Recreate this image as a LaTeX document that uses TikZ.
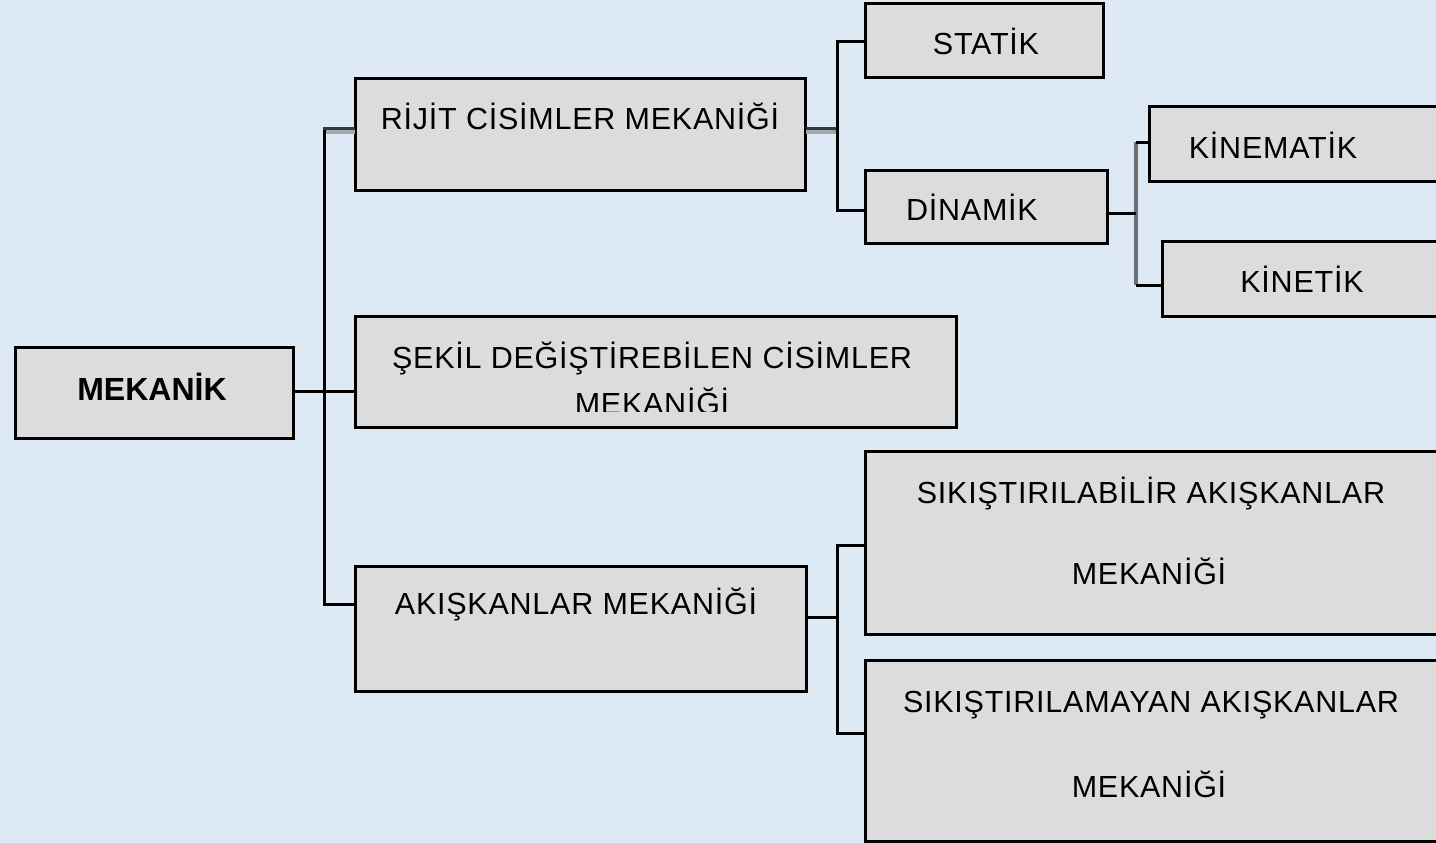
\documentclass[tikz,border=0pt]{standalone}
\usepackage{fontspec}
\setmainfont{Liberation Sans}
\newfontfamily\widefont[LetterSpace=2.5]{Liberation Sans}
\definecolor{bgc}{HTML}{DDE9F5}
\definecolor{boxc}{HTML}{DCDCDC}
\definecolor{shdark}{HTML}{333A3D}
\definecolor{shlight}{HTML}{9EA8AE}
\definecolor{midgray}{HTML}{707070}
\begin{document}
\begin{tikzpicture}[x=1pt,y=-1pt,
  box/.style={draw=black, fill=boxc, line width=3pt, inner sep=0pt, outer sep=0pt, rectangle},
  txt/.style={inner sep=0pt, anchor=base, font=\widefont\fontsize{30.5}{36}\selectfont},
  boldtxt/.style={inner sep=0pt, anchor=base, font=\fontsize{32}{38}\selectfont\bfseries},
  conn/.style={draw=black, line width=3pt},
  darkconn/.style={draw=shdark, line width=3.3pt},
  lightconn/.style={draw=shlight, line width=4pt},
  grayconn/.style={draw=midgray, line width=4pt}]
\useasboundingbox (0,0) rectangle (1436,843);
\clip (0,0) rectangle (1436,843);
\fill[bgc] (0,0) rectangle (1436,843);

% boxes
\node[box, minimum width=278pt, minimum height=91pt] (mek) at (154,392.5) {};
\node[box, minimum width=450.5pt, minimum height=112pt] (rijit) at (580.5,134.5) {};
\node[box, minimum width=238pt, minimum height=74pt] (statik) at (984,41) {};
\node[box, minimum width=242pt, minimum height=73.5pt] (dinamik) at (986,206.8) {};
\node[box, minimum width=311pt, minimum height=75.5pt] (kinematik) at (1304.5,144.2) {};
\node[box, minimum width=298pt, minimum height=75pt] (kinetik) at (1311,279) {};
\node[box, minimum width=601pt, minimum height=111.5pt] (sekil) at (655.5,372.2) {};
\node[box, minimum width=451pt, minimum height=124.5pt] (akis) at (580.5,629.2) {};
\node[box, minimum width=595pt, minimum height=182.5pt] (sik1) at (1162.5,543.2) {};
\node[box, minimum width=595pt, minimum height=181pt] (sik2) at (1162.5,750.5) {};

% trunk
\coordinate (tt) at (324.5,128.4);
\coordinate (tb) at (324.5,604);
\coordinate (mc) at (324.5,391);
\coordinate (rw) at (tt -| rijit.west);
\draw[conn] ([yshift=1.6pt]tt) -- (tb) -- (tb -| akis.west);
\draw[conn] (mek.east |- mc) -- (mc -| sekil.west);
\draw[darkconn] ([xshift=-1.5pt]tt) -- (rw);
\draw[lightconn] ([xshift=1.5pt,yshift=-3.6pt]tt) -- ([yshift=-3.6pt]rw);

% bracket 1
\coordinate (b1) at (836,128.4);
\coordinate (b1t) at (837.5,42);
\coordinate (b1b) at (837.5,210);
\coordinate (re) at (b1 -| rijit.east);
\draw[darkconn] (re) -- (b1);
\draw[lightconn] ([yshift=-3.6pt]re) -- ([yshift=-3.6pt]b1);
\draw[conn] (statik.west |- b1t) -- (b1t) -- (b1b) -- (dinamik.west |- b1b);

% bracket 2
\coordinate (b2) at (1136,213);
\coordinate (b2t) at (1136,142);
\coordinate (b2b) at (1136,285);
\draw[grayconn] (b2t) -- (b2b);
\draw[conn] (dinamik.east |- b2) -- (b2);
\draw[conn] (b2t) -- (kinematik.west |- b2t);
\draw[conn] (b2b) -- (kinetik.west |- b2b);

% bracket 3
\coordinate (b3) at (837,617);
\coordinate (b3t) at (837,545);
\coordinate (b3b) at (837,733);
\draw[conn] (akis.east |- b3) -- (b3);
\draw[conn] (sik1.west |- b3t) -- (b3t) -- (b3b) -- (sik2.west |- b3b);

% texts
\node[boldtxt] (tmek) at (152,400) {MEKANİK};
\node[txt] (trijit) at (580,129) {RİJİT CİSİMLER MEKANİĞİ};
\node[txt] (tstatik) at (986,55) {STATİK};
\node[txt] (tdinamik) at (972,220) {DİNAMİK};
\node[txt] (tkinematik) at (1273,158) {KİNEMATİK};
\node[txt] (tkinetik) at (1302,292) {KİNETİK};
\node[txt] (tsekil) at (652,368) {ŞEKİL DEĞİŞTİREBİLEN CİSİMLER};
\begin{scope}
  \clip (357,318) rectangle (954,411);
  \node[txt] (tsekil2) at (652,414) {MEKANİĞİ};
\end{scope}
\node[txt] (takis) at (576,614) {AKIŞKANLAR MEKANİĞİ};
\node[txt] (tsik1a) at (1151,503) {SIKIŞTIRILABİLİR AKIŞKANLAR};
\node[txt] (tsik1b) at (1149,584) {MEKANİĞİ};
\node[txt] (tsik2a) at (1151,712) {SIKIŞTIRILAMAYAN AKIŞKANLAR};
\node[txt] (tsik2b) at (1149,797) {MEKANİĞİ};
\end{tikzpicture}
\end{document}
